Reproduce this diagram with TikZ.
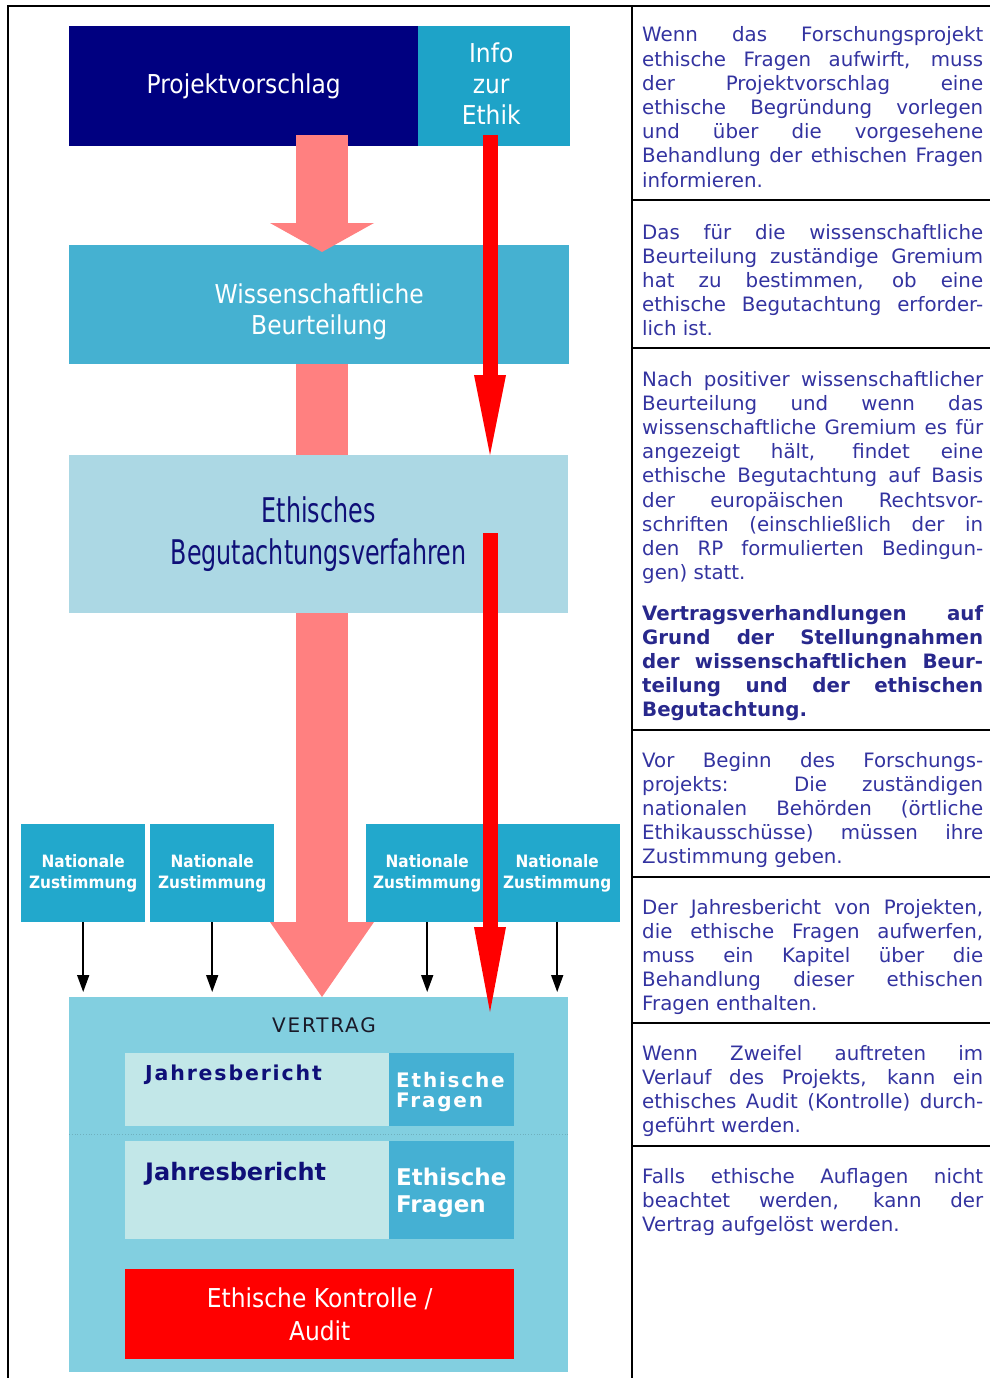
\documentclass[tikz,border=0pt]{standalone}
\usepackage{fontspec}
\setmainfont{DejaVu Sans}
\newfontfamily\narrowfont[FakeStretch=0.9]{DejaVu Sans}
\newfontfamily\tallfont[FakeStretch=0.7]{DejaVu Sans}
\newfontfamily\widefont[LetterSpace=9]{DejaVu Sans}
\newfontfamily\capsfont[LetterSpace=9]{DejaVu Sans}
\usetikzlibrary{arrows.meta}

\definecolor{navybox}{RGB}{0,0,128}
\definecolor{infobox}{RGB}{30,163,200}
\definecolor{wissbox}{RGB}{69,177,209}
\definecolor{ethikbox}{RGB}{172,216,228}
\definecolor{natbox}{RGB}{34,168,204}
\definecolor{vertragbox}{RGB}{130,207,224}
\definecolor{jahrbox}{RGB}{194,231,232}
\definecolor{fragenbox}{RGB}{69,176,211}
\definecolor{arrowpink}{RGB}{255,128,128}
\definecolor{darknavy}{RGB}{15,15,120}
\definecolor{vertragtext}{RGB}{25,25,40}
\definecolor{textblue}{RGB}{51,51,160}
\definecolor{boldblue}{RGB}{40,40,140}

% one justified line / last line of a paragraph
\newcommand\jl[1]{\hbox to \hsize{#1}}
\newcommand\el[1]{\hbox{#1}}
\newcommand\para[1]{\vtop{\hsize=341pt\baselineskip=24.2pt #1}}
\newcommand\twoline[3]{\vtop{\baselineskip=#1\hbox{#2}\hbox{#3}}}
\newcommand\cond{\narrowfont\fontsize{26}{31}\selectfont}

\tikzset{
  box/.style={rectangle, inner sep=0pt, anchor=north west, align=center},
  pinkarrow/.style={draw=arrowpink, line width=52pt},
  redarrow/.style={draw=red, line width=15pt},
  natarrow/.style={draw=black, line width=1.6pt, -{Triangle[width=12pt,length=17pt]}, shorten >=5pt},
  textcol/.style={anchor=base west, inner sep=0pt, text=textblue, font=\fontsize{19.8}{24.2}\selectfont},
  label/.style={anchor=base west, inner sep=0pt},
  sep/.style={line width=2.5pt},
}

\begin{document}
\begin{tikzpicture}[x=1pt,y=-1pt]
\useasboundingbox (0,0) rectangle (990,1378);

% table frame
\draw[sep] (8,1378) -- (8,6) -- (990,6);
\draw[sep] (632,6) -- (632,1378);
\foreach \y in {200,348,730,877,1023,1146}
  \draw[sep] (632,\y) -- (990,\y);

% diagram boxes
\node[box, fill=navybox, minimum width=349pt, minimum height=120pt, text=white, font=\cond] (proj) at (69,26) {Projektvorschlag};
\node[box, fill=infobox, minimum width=152pt, minimum height=120pt] (info) at (418,26) {};
\node[text=white, font=\cond, align=center] (infotext) at ([xshift=-3pt,yshift=3pt]info.center) {Info\\zur\\Ethik};
\node[box, fill=wissbox, minimum width=500pt, minimum height=119pt] (wiss) at (69,245) {};
\node[text=white, font=\cond, align=center] (wisstext) at ([yshift=-7pt]wiss.center) {Wissenschaftliche\\Beurteilung};
\node[box, fill=ethikbox, minimum width=499pt, minimum height=158pt, text=darknavy, font=\tallfont\fontsize{34}{42}\selectfont] (ethik) at (69,455) {Ethisches\\Begutachtungsverfahren};
\foreach \n/\x/\w in {1/21/124pt,2/150/124pt,3/366/122pt,4/494/126pt}
  \node[box, fill=natbox, minimum width=\w, minimum height=98pt, text=white, font=\narrowfont\bfseries\fontsize{17}{21}\selectfont] (nat\n) at (\x,824) {Nationale\\Zustimmung};

% contract
\node[box, fill=vertragbox, minimum width=499pt, minimum height=375pt] (vertrag) at (69,997) {};
\node[anchor=base, inner sep=0pt, text=vertragtext, font=\capsfont\fontsize{20}{22}\selectfont] (vtitle) at (324,1032) {VERTRAG};
\draw[dotted, line width=0.8pt, draw=vertragbox!85!black] (69,1134) -- (568,1134);
\node[box, fill=jahrbox, minimum width=264pt, minimum height=73pt] (jahr1) at (125,1053) {};
\node[box, fill=fragenbox, minimum width=125pt, minimum height=73pt] (fragen1) at (389,1053) {};
\node[box, fill=jahrbox, minimum width=264pt, minimum height=98pt] (jahr2) at (125,1141) {};
\node[box, fill=fragenbox, minimum width=125pt, minimum height=98pt] (fragen2) at (389,1141) {};
\node[label, text=darknavy, font=\widefont\bfseries\fontsize{20.5}{22}\selectfont] (jahr1text) at (145,1080) {Jahresbericht};
\node[label, text=white, font=\widefont\bfseries\fontsize{20}{20}\selectfont] (fragen1text) at (396,1087) {\twoline{20pt}{Ethische}{Fragen}};
\node[label, text=darknavy, font=\bfseries\fontsize{24}{28}\selectfont] (jahr2text) at (145,1180) {Jahresbericht};
\node[label, text=white, font=\bfseries\fontsize{23}{27}\selectfont] (fragen2text) at (396,1185) {\twoline{27pt}{Ethische}{Fragen}};
\node[box, fill=red, minimum width=389pt, minimum height=90pt, text=white, font=\narrowfont\fontsize{26}{33}\selectfont] (audit) at (125,1269) {Ethische Kontrolle /\\Audit};

% arrows
\coordinate (pinktop) at (322,135);
\coordinate (pinktip) at (322,252);
\draw[pinkarrow, -{Triangle[width=104pt,length=29pt,line width=0pt]}] (pinktop) -- (pinktip);
\draw[pinkarrow] (wiss.south -| pinktop) -- (ethik.north -| pinktop);
\draw[pinkarrow, -{Triangle[width=104pt,length=75pt,line width=0pt]}] (ethik.south -| pinktop) -- (vertrag.north -| pinktop);

\coordinate (redtop) at (490,135);
\coordinate (redmid) at (490,533);
\coordinate (redtip) at (490,1012);
\draw[redarrow, -{Triangle[width=32pt,length=80pt,line width=0pt]}] (redtop) -- (ethik.north -| redtop);
\draw[redarrow, -{Triangle[width=32pt,length=85pt,line width=0pt]}] (redmid) -- (redtip);

\foreach \n in {1,...,4}
  \draw[natarrow] (nat\n.south) -- (nat\n.south |- vertrag.north);

% explanations
\node[textcol] (txt1) at (642,42) {\para{%
\jl{Wenn das Forschungsprojekt}
\jl{ethische Fragen aufwirft, muss}
\jl{der Projektvorschlag eine}
\jl{ethische Begründung vorlegen}
\jl{und über die vorgesehene}
\jl{Behandlung der ethischen Fragen}
\el{informieren.}}};
\node[textcol] (txt2) at (642,239) {\para{%
\jl{Das für die wissenschaftliche}
\jl{Beurteilung zuständige Gremium}
\jl{hat zu bestimmen, ob eine}
\jl{ethische Begutachtung erforder-}
\el{lich ist.}}};
\node[textcol] (txt3) at (642,386) {\para{%
\jl{Nach positiver wissenschaftlicher}
\jl{Beurteilung und wenn das}
\jl{wissenschaftliche Gremium es für}
\jl{angezeigt hält, findet eine}
\jl{ethische Begutachtung auf Basis}
\jl{der europäischen Rechtsvor-}
\jl{schriften (einschließlich der in}
\jl{den RP formulierten Bedingun-}
\el{gen) statt.}}};
\node[textcol, text=boldblue, font=\bfseries\fontsize{19.8}{24.2}\selectfont] (txt4) at (642,620) {\para{%
\jl{Vertragsverhandlungen auf}
\jl{Grund der Stellungnahmen}
\jl{der wissenschaftlichen Beur-}
\jl{teilung und der ethischen}
\el{Begutachtung.}}};
\node[textcol] (txt5) at (642,767) {\para{%
\jl{Vor Beginn des Forschungs-}
\jl{projekts: Die zuständigen}
\jl{nationalen Behörden (örtliche}
\jl{Ethikausschüsse) müssen ihre}
\el{Zustimmung geben.}}};
\node[textcol] (txt6) at (642,914) {\para{%
\jl{Der Jahresbericht von Projekten,}
\jl{die ethische Fragen aufwerfen,}
\jl{muss ein Kapitel über die}
\jl{Behandlung dieser ethischen}
\el{Fragen enthalten.}}};
\node[textcol] (txt7) at (642,1060) {\para{%
\jl{Wenn Zweifel auftreten im}
\jl{Verlauf des Projekts, kann ein}
\jl{ethisches Audit (Kontrolle) durch-}
\el{geführt werden.}}};
\node[textcol] (txt8) at (642,1183) {\para{%
\jl{Falls ethische Auflagen nicht}
\jl{beachtet werden, kann der}
\el{Vertrag aufgelöst werden.}}};
\end{tikzpicture}
\end{document}
